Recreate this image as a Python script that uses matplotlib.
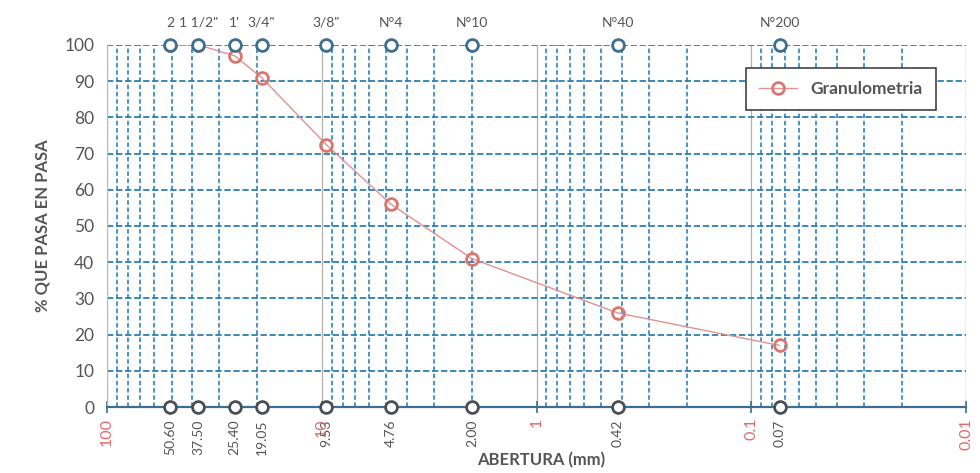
import numpy as np
import matplotlib
matplotlib.use("Agg")
import matplotlib.pyplot as plt
from matplotlib.ticker import LogLocator, NullFormatter

plt.rcParams['font.family'] = ['Lato', 'DejaVu Sans']

# tamices
sieve_names = ['2', '1 1/2"', "1'", '3/4"', '3/8"', 'N°4', 'N°10', 'N°40', 'N°200']
sieve_mm = [50.8, 37.5, 25.4, 19.05, 9.53, 4.76, 2.00, 0.42, 0.074]
sieve_text = ['50.60', '37.50', '25.40', '19.05', '9.53', '4.76', '2.00', '0.42', '0.07']
pct_pass = [100, 100, 97, 91, 72.5, 56, 41, 26, 17]
decades = [100, 10, 1, 0.1, 0.01]
decade_text = ['100', '10', '1', '0.1', '0.01']

blue = '#3b8cc0'
red = '#e39090'

fig = plt.figure(figsize=(9.8, 4.73), dpi=100)
ax = fig.add_axes([0.109, 0.1395, 0.877, 0.7655])
ax.set_xscale('log')
ax.set_xlim(100, 0.01)
ax.set_ylim(0, 100)

# rejilla
ax.xaxis.set_minor_locator(LogLocator(base=10, subs=np.arange(2, 10)))
ax.xaxis.set_minor_formatter(NullFormatter())
ax.grid(which='minor', axis='x', color=blue, ls=(0, (2.5, 1.5)), lw=1.3)
ax.grid(which='major', axis='x', color='#b0b0b0', ls='-', lw=0.9)
ax.set_yticks(np.arange(0, 101, 10))
ax.grid(which='major', axis='y', color='#2f7fb0', ls=(0, (3.5, 1.5)), lw=1.3)
ax.axvline(0.01, color='#a8c8dc', ls=(0, (3, 2)), lw=0.9)

for s in ['top', 'right']:
    ax.spines[s].set_visible(False)
ax.spines['left'].set_color('#b8b8b8')
ax.spines['bottom'].set_color('#3c6e91')
ax.spines['bottom'].set_linewidth(1.6)

ax.set_xticks(decades)
ax.set_xticklabels([])
ax.tick_params(axis='x', which='major', direction='inout', length=8, color='#3c6e91', width=1.2)
ax.tick_params(axis='x', which='minor', length=0)
ax.tick_params(axis='y', length=0, labelsize=12.5, labelcolor='#555555', pad=9)

# curva granulométrica
ax.plot(sieve_mm, pct_pass, color=red, lw=1.0, marker='o', ms=8.5,
        mfc='none', mec='#d9776f', mew=2.0, zorder=3, label='Granulometria')

# marcas de tamices arriba y abajo
ax.plot(sieve_mm, [100] * len(sieve_mm), ls='none', marker='o', ms=8.5,
        mfc='white', mec='#3d6f91', mew=2.0, zorder=4, clip_on=False)
ax.plot(sieve_mm, [0] * len(sieve_mm), ls='none', marker='o', ms=8.5,
        mfc='white', mec='#4a4f55', mew=2.0, zorder=4, clip_on=False)

for name, mm, txt in zip(sieve_names, sieve_mm, sieve_text):
    ax.text(mm, 104.5, name, ha='center', va='bottom', fontsize=10, color='#555555')
    ax.text(mm, -3.5, txt, ha='center', va='top', rotation=90, fontsize=10, color='#555555')

for d, txt in zip(decades, decade_text):
    ax.text(d, -3.0, txt, ha='center', va='top', rotation=90, fontsize=11.5, color='#e06a6a')

ax.set_xlabel('ABERTURA (mm)', fontsize=12, fontweight='bold', color='#555555')
ax.xaxis.set_label_coords(0.505, -0.125)
ax.set_ylabel('% QUE PASA EN PASA', fontsize=12, fontweight='bold', color='#555555', labelpad=10)

leg = ax.legend(loc='upper right', bbox_to_anchor=(0.975, 0.96), fontsize=12.5,
                frameon=True, fancybox=False, edgecolor='#333333', borderpad=0.75,
                handlelength=2.2, framealpha=1)
leg.get_frame().set_linewidth(1.1)
for t in leg.get_texts():
    t.set_fontweight('bold')
    t.set_color('#555555')

fig.savefig('out.png', dpi=100)
